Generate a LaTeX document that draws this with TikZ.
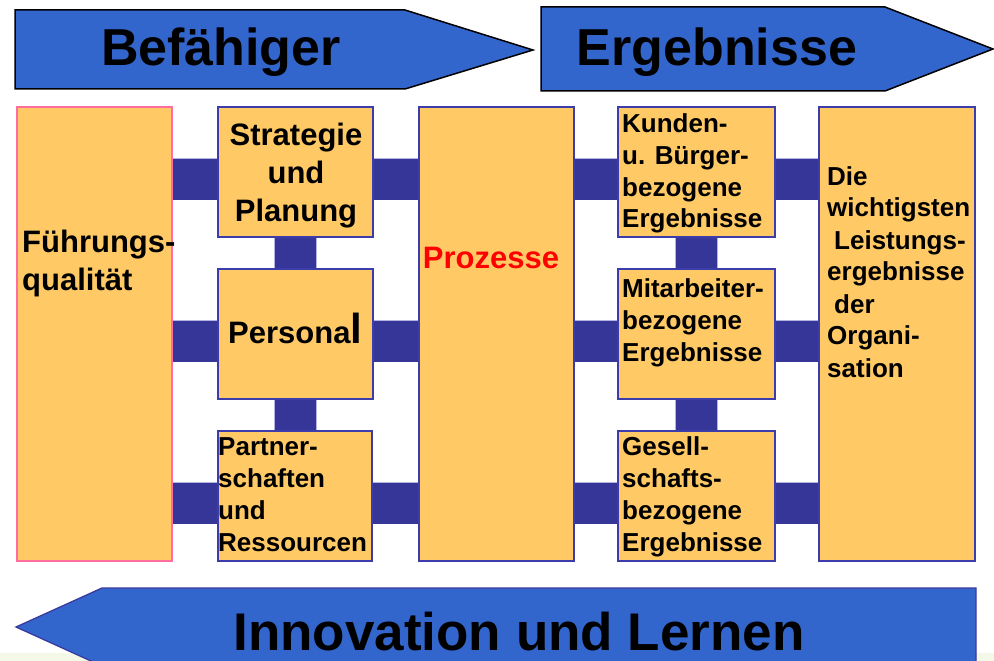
\documentclass[tikz,border=0pt]{standalone}
\usepackage{fontspec}
\setmainfont{Liberation Sans}
\usetikzlibrary{backgrounds}
\definecolor{arrowblue}{HTML}{3366CC}
\definecolor{barfill}{HTML}{363699}
\definecolor{baredge}{HTML}{B4B4E2}
\definecolor{boxfill}{HTML}{FFCA66}
\definecolor{boxline}{HTML}{3C3CAA}
\definecolor{pinkline}{HTML}{FF6E9E}
\definecolor{strip}{HTML}{F4F8E6}
\definecolor{lowline}{HTML}{3A3A9E}
\begin{document}
\begin{tikzpicture}[x=1pt,y=-1pt,
  box/.style={draw=boxline, line width=1.8pt, fill=boxfill, rectangle, inner sep=0pt, minimum height=130pt},
  smallbox/.style={box, minimum width=155pt},
  tallbox/.style={box, minimum width=155pt, minimum height=454pt},
  conn/.style={draw=baredge, line width=0.8pt, double=barfill, double distance=41pt},
  bigtext/.style={inner sep=0pt, font=\bfseries\fontsize{52}{60}\selectfont},
  midtext/.style={inner sep=0pt, font=\bfseries\fontsize{31}{38.5}\selectfont},
  smalltext/.style={inner sep=0pt, font=\bfseries\fontsize{26}{32}\selectfont},
  topshape/.style={fill=arrowblue, draw=black, line width=1.5pt, line join=miter}
]
\useasboundingbox (0,0) rectangle (994,661);
\clip (0,0) rectangle (994,661);

% top arrows
\draw[topshape] (15,10) -- (405,10) -- (533,50) -- (405,89) -- (15,89) -- cycle;
\draw[topshape] (541,7) -- (885,7) -- (993,49) -- (885,91) -- (541,91) -- cycle;
\node[bigtext, anchor=base] (befaehiger) at (221,66) {Befähiger};
\node[bigtext, anchor=base] (ergebnisse) at (717,66) {Ergebnisse};

% bottom strip and arrow
\fill[strip] (0,653) rectangle (994,661);
\draw[fill=arrowblue, draw=lowline, line width=1.3pt] (976,588) -- (102,588) -- (16,627) -- (102,666) -- (976,666) -- cycle;
\node[bigtext, anchor=base, font=\bfseries\fontsize{53}{60}\selectfont] (innovation) at (519,650) {Innovation und Lernen};

% boxes
\node[tallbox, draw=pinkline] (fq) at (94.5,334) {};
\node[smallbox] (sp) at (295.5,172) {};
\node[smallbox] (pe) at (295.5,334) {};
\node[smallbox, minimum width=154pt] (pr) at (295,496) {};
\node[tallbox] (pz) at (496.5,334) {};
\node[smallbox, minimum width=157pt] (ku) at (696.5,172) {};
\node[smallbox, minimum width=157pt] (mi) at (696.5,334) {};
\node[smallbox, minimum width=157pt] (ge) at (696.5,496) {};
\node[tallbox, minimum width=156pt] (dw) at (897,334) {};

% connectors
\begin{scope}[on background layer]
\foreach \a/\b/\r in {fq/sp/sp, fq/pe/pe, fq/pr/pr, sp/pz/sp, pe/pz/pe, pr/pz/pr,
                      pz/ku/ku, pz/mi/mi, pz/ge/ge, ku/dw/ku, mi/dw/mi, ge/dw/ge}{
  \draw[conn] ([yshift=-7pt]\r.center -| \a.center) -- ([yshift=-7pt]\r.center -| \b.center);
}
\foreach \a/\b in {sp/pe, pe/pr, ku/mi, mi/ge}{
  \draw[conn] (\a.center) -- (\a.center |- \b.center);
}
\end{scope}

% texts
\node[midtext, anchor=base west] (tfq) at (22,252) {\parbox[t]{170pt}{\raggedright Führungs-\\qualität}};
\node[midtext, anchor=base] (tsp) at (296,145) {\parbox[t]{150pt}{\centering Strategie\\und\\Planung}};
\node[midtext, anchor=base west] (tpe) at (228,343) {Persona{\fontsize{42}{42}\selectfont l}};
\node[smalltext, anchor=base west] (tpr) at (218,455) {\parbox[t]{160pt}{\raggedright Partner-\\schaften\\und\\Ressourcen}};
\node[midtext, anchor=base, text=red] (tpz) at (491,268) {Prozesse};
\node[smalltext, anchor=base west] (tku) at (622,132) {\parbox[t]{160pt}{\raggedright Kunden-\\u. Bürger-\\bezogene\\Ergebnisse}};
\node[smalltext, anchor=base west] (tmi) at (622,297) {\parbox[t]{160pt}{\raggedright Mitarbeiter-\\bezogene\\Ergebnisse}};
\node[smalltext, anchor=base west] (tge) at (622,455) {\parbox[t]{160pt}{\raggedright Gesell-\\schafts-\\bezogene\\Ergebnisse}};
\node[smalltext, anchor=base west] (tdw) at (827,185) {\parbox[t]{160pt}{\raggedright Die\\wichtigsten\\\hspace*{7pt}Leistungs-\\ergebnisse\\\hspace*{7pt}der\\Organi-\\sation}};
\end{tikzpicture}
\end{document}
